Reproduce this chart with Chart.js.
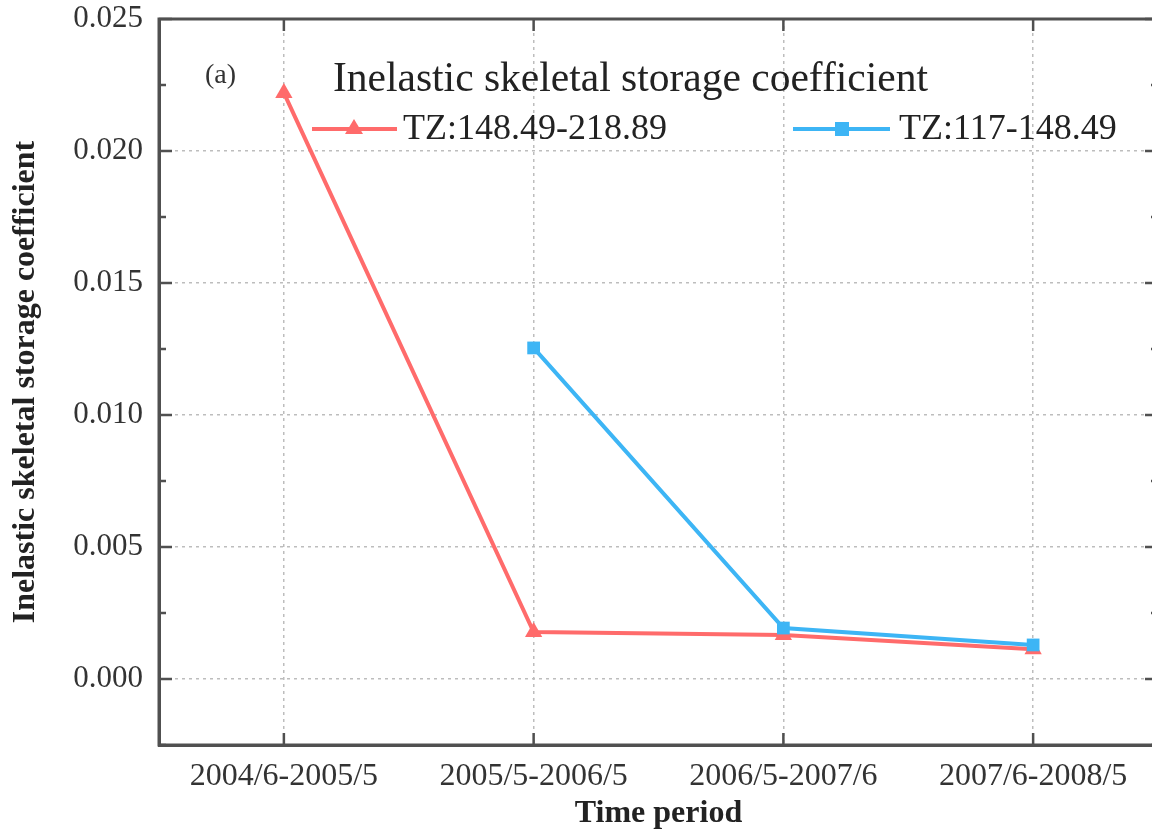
<!DOCTYPE html>
<html>
<head>
<meta charset="utf-8">
<script src="https://cdn.jsdelivr.net/npm/chart.js@4/dist/chart.umd.min.js"></script>
<style>
  html, body { margin: 0; padding: 0; background: #fff; overflow: hidden; }
  #wrap { width: 1152px; height: 839px; overflow: hidden; position: relative; }
  canvas { display: block; }
</style>
</head>
<body>
<div id="wrap"><canvas id="c" width="1168" height="839"></canvas></div>
<script>
const categories = ['2004/6-2005/5', '2005/5-2006/5', '2006/5-2007/6', '2007/6-2008/5'];
const seriesNames = ['TZ:148.49-218.89', 'TZ:117-148.49'];
const redValues = [0.0222, 0.00178, 0.00167, 0.00113];
const blueValues = [null, 0.01254, 0.00193, 0.00129];
const yTicks = [0, 0.005, 0.010, 0.015, 0.020, 0.025];
const yMinorTicks = [-0.0025, 0.0025, 0.0075, 0.0125, 0.0175, 0.0225];
const legendTitle = 'Inelastic skeletal storage coefficient';
const panelLabel = '(a)';
const xTitle = 'Time period';
const yTitle = 'Inelastic skeletal storage coefficient';

const SERIF = "'Liberation Serif', 'Times New Roman', serif";
const RED = '#ff6b6b';
const BLUE = '#3db5f5';
const FRAME = '#505050';
const TEXT = '#333333';

const framePlugin = {
  id: 'frame',
  afterDraw(chart) {
    const ctx = chart.ctx;
    const a = chart.chartArea;
    const x = chart.scales.x, y = chart.scales.y;
    ctx.save();
    ctx.strokeStyle = FRAME;
    ctx.lineWidth = 3;
    ctx.strokeRect(a.left, a.top, a.right - a.left, a.bottom - a.top);
    ctx.lineWidth = 2.5;
    ctx.beginPath();
    yTicks.forEach(v => {
      const py = y.getPixelForValue(v);
      ctx.moveTo(a.left, py); ctx.lineTo(a.left + 13, py);
      ctx.moveTo(a.right, py); ctx.lineTo(a.right - 13, py);
    });
    yMinorTicks.forEach(v => {
      const py = y.getPixelForValue(v);
      ctx.moveTo(a.left, py); ctx.lineTo(a.left + 7, py);
      ctx.moveTo(a.right, py); ctx.lineTo(a.right - 7, py);
    });
    categories.forEach((c, i) => {
      const px = x.getPixelForValue(i);
      ctx.moveTo(px, a.bottom); ctx.lineTo(px, a.bottom - 12);
      ctx.moveTo(px, a.top); ctx.lineTo(px, a.top + 12);
    });
    ctx.stroke();

    // panel label
    ctx.fillStyle = TEXT;
    ctx.font = '28px ' + SERIF;
    ctx.textBaseline = 'middle';
    ctx.textAlign = 'left';
    ctx.fillText(panelLabel, 205, 76);

    // legend
    ctx.font = '41.5px ' + SERIF;
    ctx.fillStyle = '#222';
    ctx.fillText(legendTitle, 333, 80);
    ctx.font = '36px ' + SERIF;
    // red item
    ctx.strokeStyle = RED; ctx.lineWidth = 4;
    ctx.beginPath(); ctx.moveTo(312, 129); ctx.lineTo(397, 129); ctx.stroke();
    ctx.fillStyle = RED;
    ctx.beginPath(); ctx.moveTo(354, 119); ctx.lineTo(363, 134); ctx.lineTo(345, 134); ctx.closePath(); ctx.fill();
    ctx.fillStyle = '#222';
    ctx.fillText(seriesNames[0], 403, 130);
    // blue item
    ctx.strokeStyle = BLUE; ctx.lineWidth = 4;
    ctx.beginPath(); ctx.moveTo(793, 129); ctx.lineTo(890, 129); ctx.stroke();
    ctx.fillStyle = BLUE;
    ctx.fillRect(835, 122, 14, 14);
    ctx.fillStyle = '#222';
    ctx.fillText(seriesNames[1], 899, 130);
    ctx.restore();
  }
};

new Chart(document.getElementById('c'), {
  type: 'line',
  data: {
    labels: categories,
    datasets: [
      {
        label: seriesNames[0],
        data: redValues,
        borderColor: RED,
        backgroundColor: RED,
        borderWidth: 4,
        pointStyle: 'triangle',
        pointRadius: 10,
        pointBorderWidth: 0,
        tension: 0,
        order: 1
      },
      {
        label: seriesNames[1],
        data: blueValues,
        borderColor: BLUE,
        backgroundColor: BLUE,
        borderWidth: 4,
        pointStyle: 'rect',
        pointRadius: 9,
        pointBorderWidth: 0,
        tension: 0,
        order: 0
      }
    ]
  },
  options: {
    responsive: false,
    animation: false,
    layout: { padding: { top: 19, right: 2, left: 0, bottom: 0 } },
    plugins: { legend: { display: false }, tooltip: { enabled: false } },
    scales: {
      x: {
        type: 'category',
        offset: true,
        afterFit(s) { s.height = 94; s.paddingTop = 0; s.paddingBottom = 0; },
        grid: { display: true, offset: false, drawTicks: false, color: '#bdbdbd', lineWidth: 1.5 },
        border: { display: true, color: FRAME, width: 3, dash: [3, 4] },
        ticks: { color: TEXT, padding: 12, font: { family: SERIF, size: 32 }, maxRotation: 0, autoSkip: false },
        title: { display: true, text: xTitle, color: '#222', padding: { top: 0, bottom: 6 }, font: { family: SERIF, size: 32, weight: 'bold' } }
      },
      y: {
        min: -0.0025,
        max: 0.025,
        afterFit(s) { s.width = 159; s.paddingTop = 0; s.paddingBottom = 0; },
        afterBuildTicks(s) { s.ticks = yTicks.map(v => ({ value: v })); },
        grid: { display: true, drawTicks: false, color: '#bdbdbd', lineWidth: 1.5 },
        border: { display: true, color: FRAME, width: 3, dash: [3, 4] },
        ticks: { color: TEXT, padding: 16, font: { family: SERIF, size: 31, lineHeight: 0.4 }, callback: v => Number(v).toFixed(3) },
        title: { display: true, text: yTitle, color: '#222', padding: { top: 7, bottom: 0 }, font: { family: SERIF, size: 32, weight: 'bold' } }
      }
    }
  },
  plugins: [framePlugin]
});
</script>
</body>
</html>
